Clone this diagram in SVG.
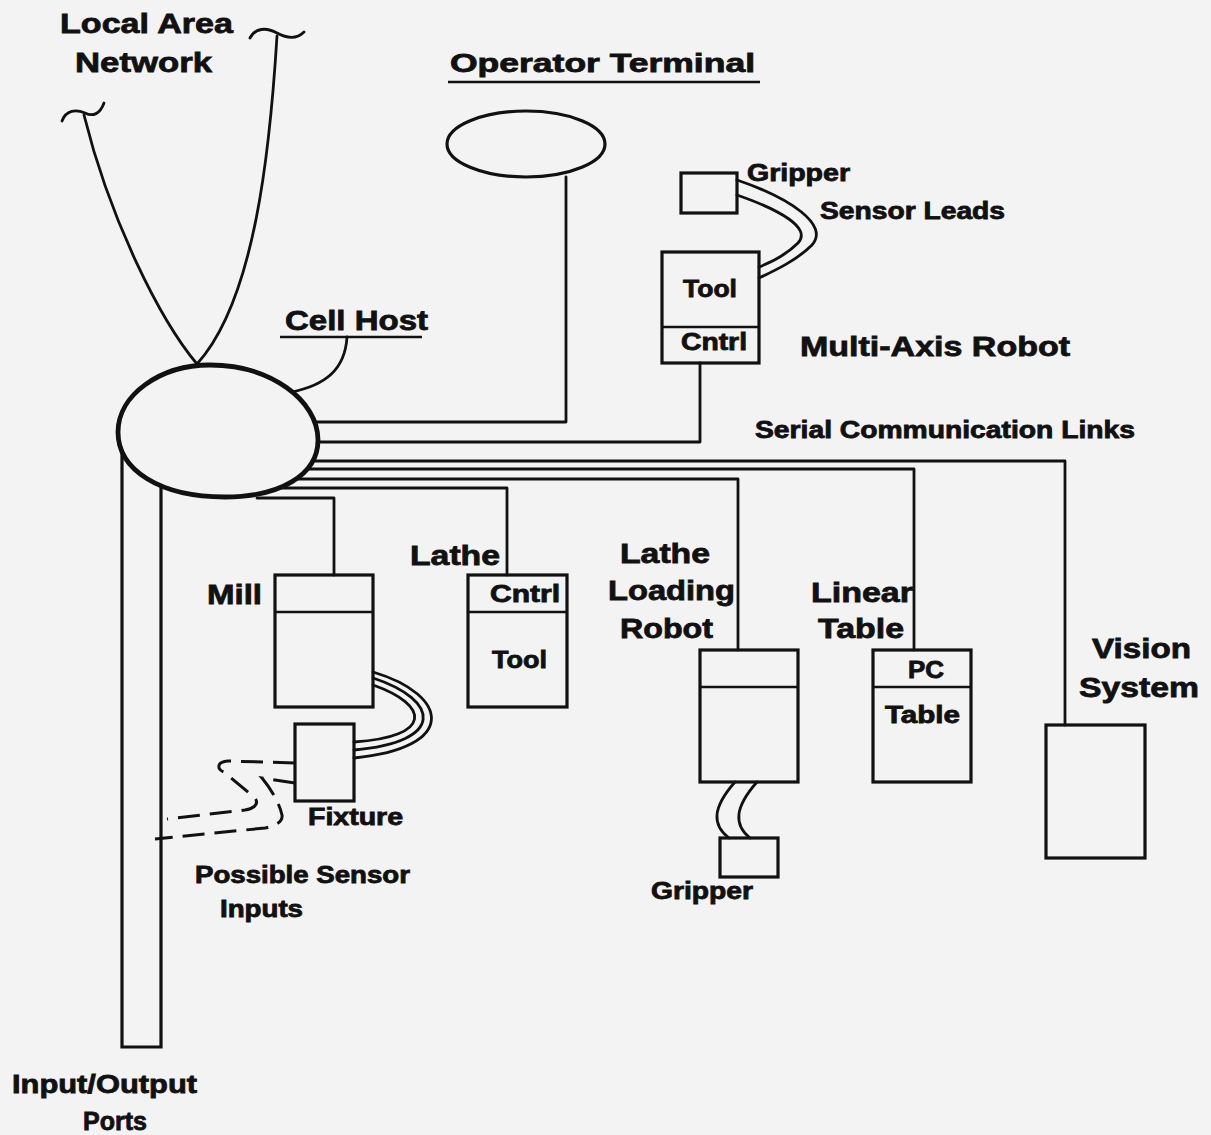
<svg xmlns="http://www.w3.org/2000/svg" width="1211" height="1135" viewBox="0 0 1211 1135">
<style>
.ln{fill:none;stroke:#111;stroke-width:2.8;stroke-linecap:round;stroke-linejoin:round}
.box{fill:none;stroke:#111;stroke-width:3.2}
.div{stroke:#111;stroke-width:2.6}
.dash{fill:none;stroke:#111;stroke-width:3;stroke-dasharray:22 10}
.t{font-family:"Liberation Sans",Arial,Helvetica,sans-serif;font-weight:bold;fill:#111;stroke:#111;stroke-width:0.8}
.big{font-size:28px}
.sm{font-size:23px}
</style>
<rect x="0" y="0" width="1211" height="1135" fill="#f3f3f3"/>

<g id="connectors">
  <path class="ln" d="M84,115 C110,220 160,320 197,364"/>
  <path class="ln" d="M277,36 C270,150 255,300 197,364"/>
  <path class="ln" d="M347,337 C345,370 325,385 292,392"/>
  <path class="ln" d="M300,422 H566 V177"/>
  <path class="ln" d="M300,442 H700 V363"/>
  <path class="ln" d="M300,461 H1065 V725"/>
  <path class="ln" d="M300,469 H914 V650"/>
  <path class="ln" d="M290,479 H738 V650"/>
  <path class="ln" d="M280,488 H507 V575"/>
  <path class="ln" d="M257,498 H334 V575"/>
  <path class="ln" d="M737,180 C790,198 830,225 812,245 C797,260 776,270 759,278"/>
  <path class="ln" d="M737,195 C780,210 812,228 798,243 C786,255 772,262 759,267"/>
  <path class="ln" d="M373,672 C450,695 458,748 354,758"/>
  <path class="ln" d="M373,678 C440,700 446,742 354,750"/>
  <path class="ln" d="M373,685 C430,705 433,737 354,742"/>
  <path class="ln" d="M735,782 C712,808 712,825 729,838"/>
  <path class="ln" d="M757,782 C734,808 734,825 750,838"/>
  <path class="dash" d="M295,763 L228,761 C215,762 218,770 224,772 L255,798 C260,805 252,809 245,810 L167,819"/>
  <path class="dash" d="M295,783 L262,778 C272,790 280,805 282,815 C283,822 275,826 265,828 L155,839"/>
</g>

<g id="lan">
  <path class="ln" d="M62,121 C66,110 76,109 85,113 C93,117 100,114 104,103"/>
  <path class="ln" d="M250,38 C255,28 266,27 277,33 C290,40 298,38 304,32"/>
  <text class="t big" x="60" y="33" textLength="173" lengthAdjust="spacingAndGlyphs">Local Area</text>
  <text class="t big" x="75" y="72" textLength="137" lengthAdjust="spacingAndGlyphs">Network</text>
</g>

<g id="io-ports">
  <path class="box" d="M122,440 V1047 H161 V480"/>
  <text class="t" font-size="26" x="12" y="1093" textLength="185" lengthAdjust="spacingAndGlyphs">Input/Output</text>
  <text class="t" font-size="26" x="83" y="1130" textLength="64" lengthAdjust="spacingAndGlyphs">Ports</text>
</g>

<g id="cell-host">
  <path d="M210,365 C270,365 318,400 318,440 C318,475 280,497 225,497 C160,497 118,470 118,432 C118,395 160,365 210,365 Z" fill="#f3f3f3" stroke="#111" stroke-width="4.8"/>
  <text class="t big" x="285" y="330" textLength="143" lengthAdjust="spacingAndGlyphs">Cell Host</text>
  <line x1="280" y1="337" x2="422" y2="337" stroke="#111" stroke-width="2.6"/>
</g>

<g id="operator-terminal">
  <ellipse cx="526" cy="144" rx="79" ry="33" fill="none" stroke="#111" stroke-width="3.2"/>
  <text class="t" font-size="26" x="450" y="72" textLength="305" lengthAdjust="spacingAndGlyphs">Operator Terminal</text>
  <line x1="448" y1="82" x2="760" y2="82" stroke="#111" stroke-width="2.6"/>
</g>

<g id="multi-axis-robot">
  <rect class="box" x="681" y="173" width="56" height="40"/>
  <rect class="box" x="662" y="252" width="97" height="111"/>
  <line class="div" x1="662" y1="327" x2="759" y2="327"/>
  <text class="t sm" x="683" y="297" textLength="54" lengthAdjust="spacingAndGlyphs">Tool</text>
  <text class="t sm" x="681" y="350" textLength="66" lengthAdjust="spacingAndGlyphs">Cntrl</text>
  <text class="t sm" x="747" y="181" textLength="103" lengthAdjust="spacingAndGlyphs">Gripper</text>
  <text class="t sm" x="820" y="219" textLength="185" lengthAdjust="spacingAndGlyphs">Sensor Leads</text>
  <text class="t big" x="800" y="356" textLength="270" lengthAdjust="spacingAndGlyphs">Multi-Axis Robot</text>
</g>

<g id="serial-label">
  <text class="t sm" x="755" y="438" textLength="380" lengthAdjust="spacingAndGlyphs">Serial Communication Links</text>
</g>

<g id="mill">
  <rect class="box" x="275" y="575" width="98" height="132"/>
  <line class="div" x1="275" y1="612" x2="373" y2="612"/>
  <text class="t big" x="207" y="604" textLength="55" lengthAdjust="spacingAndGlyphs">Mill</text>
</g>

<g id="fixture">
  <rect class="box" x="295" y="724" width="59" height="77"/>
  <text class="t sm" x="308" y="825" textLength="95" lengthAdjust="spacingAndGlyphs">Fixture</text>
</g>

<g id="sensor-inputs-label">
  <text class="t sm" x="195" y="883" textLength="215" lengthAdjust="spacingAndGlyphs">Possible Sensor</text>
  <text class="t sm" x="220" y="917" textLength="83" lengthAdjust="spacingAndGlyphs">Inputs</text>
</g>

<g id="lathe">
  <rect class="box" x="468" y="575" width="99" height="132"/>
  <line class="div" x1="468" y1="612" x2="567" y2="612"/>
  <text class="t sm" x="490" y="602" textLength="70" lengthAdjust="spacingAndGlyphs">Cntrl</text>
  <text class="t sm" x="492" y="668" textLength="55" lengthAdjust="spacingAndGlyphs">Tool</text>
  <text class="t big" x="410" y="565" textLength="90" lengthAdjust="spacingAndGlyphs">Lathe</text>
</g>

<g id="lathe-loading-robot">
  <rect class="box" x="700" y="650" width="98" height="132"/>
  <line class="div" x1="700" y1="687" x2="798" y2="687"/>
  <rect class="box" x="720" y="838" width="58" height="39"/>
  <text class="t big" x="620" y="563" textLength="90" lengthAdjust="spacingAndGlyphs">Lathe</text>
  <text class="t big" x="608" y="600" textLength="127" lengthAdjust="spacingAndGlyphs">Loading</text>
  <text class="t big" x="620" y="638" textLength="93" lengthAdjust="spacingAndGlyphs">Robot</text>
  <text class="t sm" x="651" y="899" textLength="102" lengthAdjust="spacingAndGlyphs">Gripper</text>
</g>

<g id="linear-table">
  <rect class="box" x="873" y="650" width="98" height="132"/>
  <line class="div" x1="873" y1="687" x2="971" y2="687"/>
  <text class="t sm" x="908" y="678" textLength="36" lengthAdjust="spacingAndGlyphs">PC</text>
  <text class="t sm" x="885" y="723" textLength="75" lengthAdjust="spacingAndGlyphs">Table</text>
  <text class="t big" x="811" y="602" textLength="102" lengthAdjust="spacingAndGlyphs">Linear</text>
  <text class="t big" x="818" y="638" textLength="86" lengthAdjust="spacingAndGlyphs">Table</text>
</g>

<g id="vision-system">
  <rect class="box" x="1046" y="725" width="99" height="133"/>
  <text class="t big" x="1092" y="658" textLength="99" lengthAdjust="spacingAndGlyphs">Vision</text>
  <text class="t big" x="1079" y="697" textLength="120" lengthAdjust="spacingAndGlyphs">System</text>
</g>
</svg>
